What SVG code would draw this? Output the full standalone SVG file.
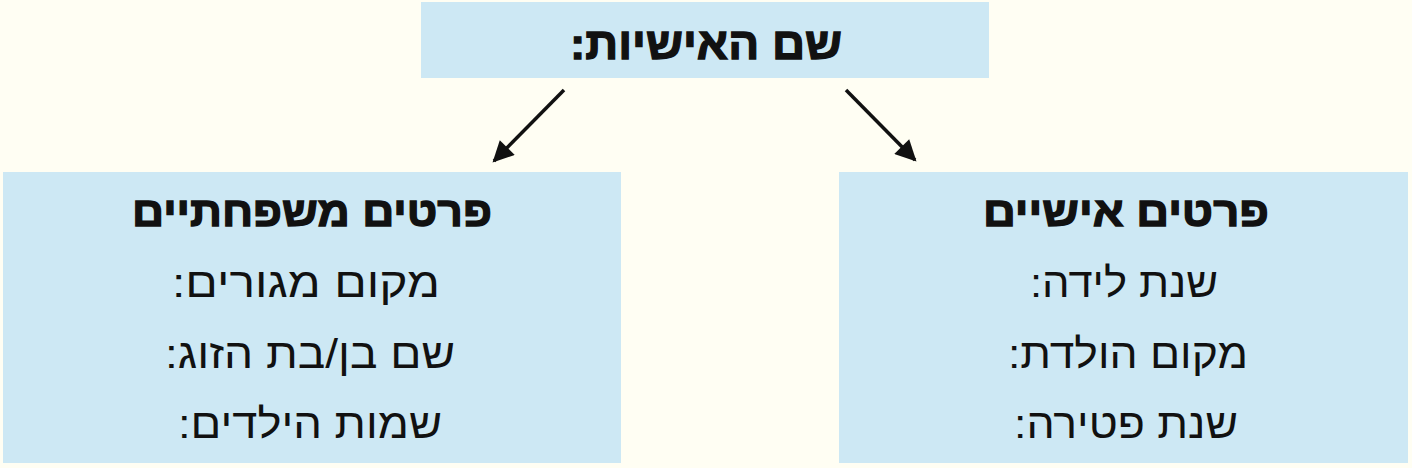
<svg xmlns="http://www.w3.org/2000/svg" width="1412" height="468" viewBox="0 0 1412 468">
<style>
.box{fill:#CDE8F4;}
.t{font-family:"Liberation Sans","DejaVu Sans",sans-serif;fill:#111;text-anchor:middle;direction:rtl;}
.h{font-weight:700;font-size:42px;stroke:#111;stroke-width:1.3;}
.top{font-size:45px;}
.l{font-size:41px;}
.conn{stroke:#111;stroke-width:3.5;fill:none;marker-end:url(#ah);}
</style>
<defs>
<marker id="ah" viewBox="0 0 10 10" refX="9" refY="5" markerWidth="7" markerHeight="6" orient="auto" markerUnits="strokeWidth">
<path d="M0,0 L10,5 L0,10 Z" fill="#111"/>
</marker>
</defs>
<rect width="1412" height="468" fill="#FFFEF3"/>
<g id="top">
<rect class="box" x="421" y="2" width="568" height="76"/>
<text class="t h top" x="706" y="59" textLength="272" lengthAdjust="spacingAndGlyphs">שם האישיות:</text>
</g>
<g id="family">
<rect class="box" x="3" y="172" width="618" height="291"/>
<text class="t h" x="312" y="226" textLength="360" lengthAdjust="spacingAndGlyphs">פרטים משפחתיים</text>
<text class="t l" x="306" y="297" textLength="268" lengthAdjust="spacingAndGlyphs">מקום מגורים:</text>
<text class="t l" x="310" y="368" textLength="290" lengthAdjust="spacingAndGlyphs">שם בן/בת הזוג:</text>
<text class="t l" x="310" y="438" textLength="264" lengthAdjust="spacingAndGlyphs">שמות הילדים:</text>
</g>
<g id="personal">
<rect class="box" x="839" y="172" width="569" height="291"/>
<text class="t h" x="1126" y="226" textLength="286" lengthAdjust="spacingAndGlyphs">פרטים אישיים</text>
<text class="t l" x="1124" y="297" textLength="188" lengthAdjust="spacingAndGlyphs">שנת לידה:</text>
<text class="t l" x="1128" y="368" textLength="240" lengthAdjust="spacingAndGlyphs">מקום הולדת:</text>
<text class="t l" x="1126" y="438" textLength="224" lengthAdjust="spacingAndGlyphs">שנת פטירה:</text>
</g>
<g id="connectors">
<line class="conn" x1="564" y1="90" x2="494" y2="161"/>
<line class="conn" x1="846" y1="90" x2="915" y2="160"/>
</g>
</svg>
